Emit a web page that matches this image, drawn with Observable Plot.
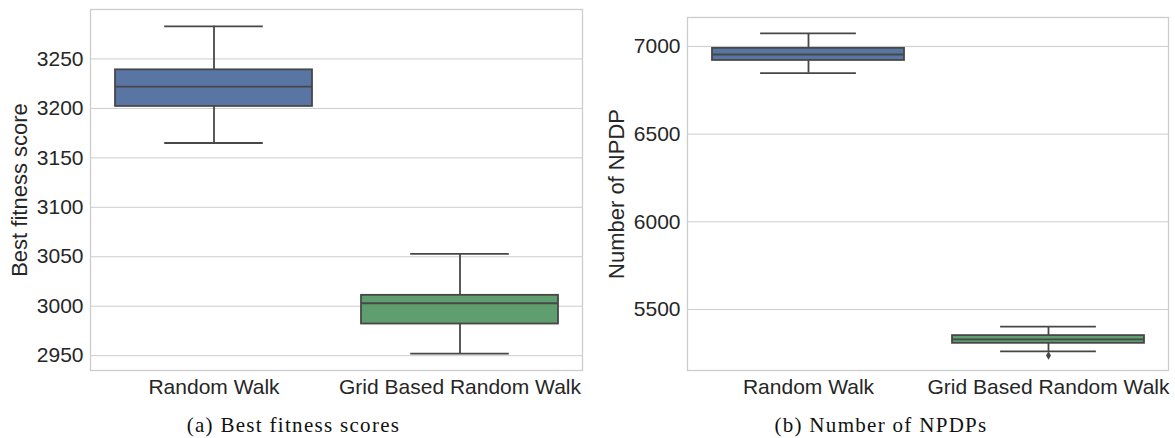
<!DOCTYPE html>
<html>
<head>
<meta charset="utf-8">
<script src="https://cdn.jsdelivr.net/npm/d3@7"></script>
<script src="https://cdn.jsdelivr.net/npm/@observablehq/plot@0.6"></script>
<style>
  body { margin: 0; background: white; }
  #wrap { display: flex; width: 1175px; }
  .panel { display: flex; flex-direction: column; }
  .caption { font-family: "Liberation Serif", "DejaVu Serif", serif; font-size: 21px; color: #111;
             letter-spacing: 1.3px; text-align: center; margin-top: 10px; line-height: 30px; }
  svg g[aria-label="y-axis label"] text { font-size: 22px; }
</style>
</head>
<body>
<div id="wrap"></div>
<script>
// Categories
const categories = ["Random Walk", "Grid Based Random Walk"];

// (a) Best fitness scores — box summaries
const fitnessLow    = [3165, 2952];
const fitnessQ1     = [3202, 2982];
const fitnessMedian = [3222, 3003];
const fitnessQ3     = [3239, 3011];
const fitnessHigh   = [3283, 3053];
const fitnessTicks  = [2950, 3000, 3050, 3100, 3150, 3200, 3250];

// (b) Number of NPDPs — box summaries
const npdpLow    = [6848, 5261];
const npdpQ1     = [6920, 5307];
const npdpMedian = [6954, 5329];
const npdpQ3     = [6989, 5351];
const npdpHigh   = [7074, 5402];
const npdpOutlierCats = ["Grid Based Random Walk"];
const npdpOutliers    = [5238];
const npdpTicks  = [5500, 6000, 6500, 7000];

const boxColors = ["#5975a4", "#5f9e6e"];
const edge = "#474747";

function table(lo, q1, med, q3, hi) {
  return categories.map((c, i) => ({cat: c, lo: lo[i], q1: q1[i], med: med[i], q3: q3[i], hi: hi[i]}));
}

function panel({data, outliers, domain, ticks, label, width, marginLeft, marginRight, marginTop, labelOffset, caption}) {
  const height = 400, marginBottom = 30;
  const plotW = width - marginLeft - marginRight;
  const capInset = 0.4 * plotW / 4;
  const chart = Plot.plot({
    width, height, marginLeft, marginRight, marginTop, marginBottom,
    style: {fontFamily: "'Liberation Sans', Arial, sans-serif", fontSize: "21px", color: "#262626", background: "white"},
    x: {domain: categories, paddingInner: 0.2, paddingOuter: 0.1, label: null, tickSize: 0, tickPadding: 9},
    y: {domain, ticks, tickSize: 0, tickPadding: 7, label, labelAnchor: "center", labelArrow: "none", labelOffset, tickFormat: d3.format("d")},
    color: {domain: categories, range: boxColors},
    marks: [
      Plot.gridY(ticks, {stroke: "#cccccc", strokeOpacity: 1, strokeWidth: 1}),
      Plot.frame({stroke: "#cccccc", strokeWidth: 1.3}),
      Plot.ruleX(data, {x: "cat", y1: "lo", y2: "q1", stroke: edge, strokeWidth: 1.8}),
      Plot.ruleX(data, {x: "cat", y1: "q3", y2: "hi", stroke: edge, strokeWidth: 1.8}),
      Plot.tickY(data, {x: "cat", y: "lo", stroke: edge, strokeWidth: 1.8, insetLeft: capInset, insetRight: capInset}),
      Plot.tickY(data, {x: "cat", y: "hi", stroke: edge, strokeWidth: 1.8, insetLeft: capInset, insetRight: capInset}),
      Plot.barY(data, {x: "cat", y1: "q1", y2: "q3", fill: "cat", stroke: edge, strokeWidth: 1.8}),
      Plot.tickY(data, {x: "cat", y: "med", stroke: edge, strokeWidth: 1.8}),
      Plot.dot(outliers, {x: "cat", y: "v", symbol: "diamond", r: 2.6, fill: edge, stroke: "none"})
    ]
  });
  const div = document.createElement("div");
  div.className = "panel";
  div.style.width = width + "px";
  div.appendChild(chart);
  const cap = document.createElement("div");
  cap.className = "caption";
  cap.textContent = caption;
  div.appendChild(cap);
  return div;
}

const wrap = document.getElementById("wrap");
wrap.appendChild(panel({
  data: table(fitnessLow, fitnessQ1, fitnessMedian, fitnessQ3, fitnessHigh),
  outliers: [],
  domain: [2935, 3300], ticks: fitnessTicks, label: "Best fitness score",
  width: 587, marginLeft: 90, marginRight: 5, marginTop: 9, labelOffset: 79,
  caption: "(a) Best fitness scores"
}));
wrap.appendChild(panel({
  data: table(npdpLow, npdpQ1, npdpMedian, npdpQ3, npdpHigh),
  outliers: npdpOutlierCats.map((c, i) => ({cat: c, v: npdpOutliers[i]})),
  domain: [5152, 7165], ticks: npdpTicks, label: "Number of NPDP",
  width: 588, marginLeft: 100, marginRight: 7, marginTop: 17, labelOffset: 79,
  caption: "(b) Number of NPDPs"
}));
</script>
</body>
</html>
